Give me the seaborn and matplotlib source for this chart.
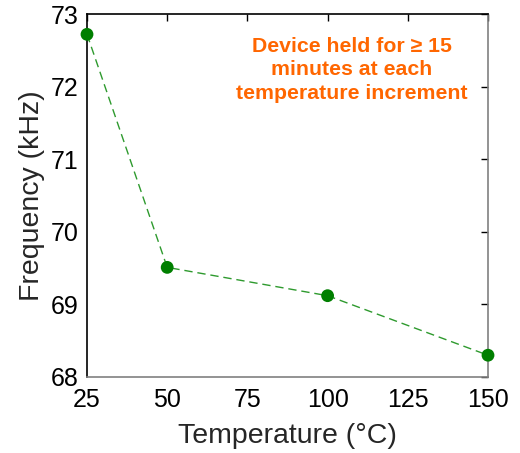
import matplotlib
matplotlib.use("Agg")
import matplotlib.pyplot as plt
import seaborn as sns
import pandas as pd

temperature_c = [25, 50, 100, 150]
frequency_khz = [72.72, 69.51, 69.12, 68.30]
x_ticks = [25, 50, 75, 100, 125, 150]
y_ticks = [68, 69, 70, 71, 72, 73]

sns.set_theme(style="white")
plt.rcParams["font.family"] = ["Liberation Sans", "DejaVu Sans"]

df = pd.DataFrame({"Temperature": temperature_c, "Frequency": frequency_khz})

fig = plt.figure(figsize=(5.2, 4.53), dpi=100)
ax = fig.add_axes([87 / 520, 1 - 377 / 453, (488 - 87) / 520, (377 - 14) / 453])

sns.lineplot(data=df, x="Temperature", y="Frequency", ax=ax,
             color="#2e9a2e", linestyle=(0, (6, 3.5)), linewidth=1.0)
sns.scatterplot(data=df, x="Temperature", y="Frequency", ax=ax,
                color="#007f00", s=85, edgecolor="none", zorder=3, clip_on=False)

ax.set_xlim(25, 150)
ax.set_ylim(68, 73)
ax.set_xticks(x_ticks)
ax.set_yticks(y_ticks)
ax.tick_params(direction="in", length=5, width=1, labelsize=18, colors="black",
               top=True, right=True)
ax.tick_params(axis="x", pad=8)
ax.tick_params(axis="y", pad=6)
for side in ["top", "left"]:
    ax.spines[side].set_color("black")
for side in ["bottom", "right"]:
    ax.spines[side].set_color("#808080")
for s in ax.spines.values():
    s.set_linewidth(1.2)

ax.set_xlabel("Temperature (°C)", fontsize=20.5, labelpad=8)
ax.set_ylabel("Frequency (kHz)", fontsize=20.5, labelpad=4)

ax.text(0.661, 0.846, "Device held for ≥ 15\nminutes at each\ntemperature increment",
        transform=ax.transAxes, ha="center", va="center", color="#ff6600",
        fontsize=15.3, fontweight="bold", linespacing=1.3)

fig.savefig("out.png", dpi=100)
